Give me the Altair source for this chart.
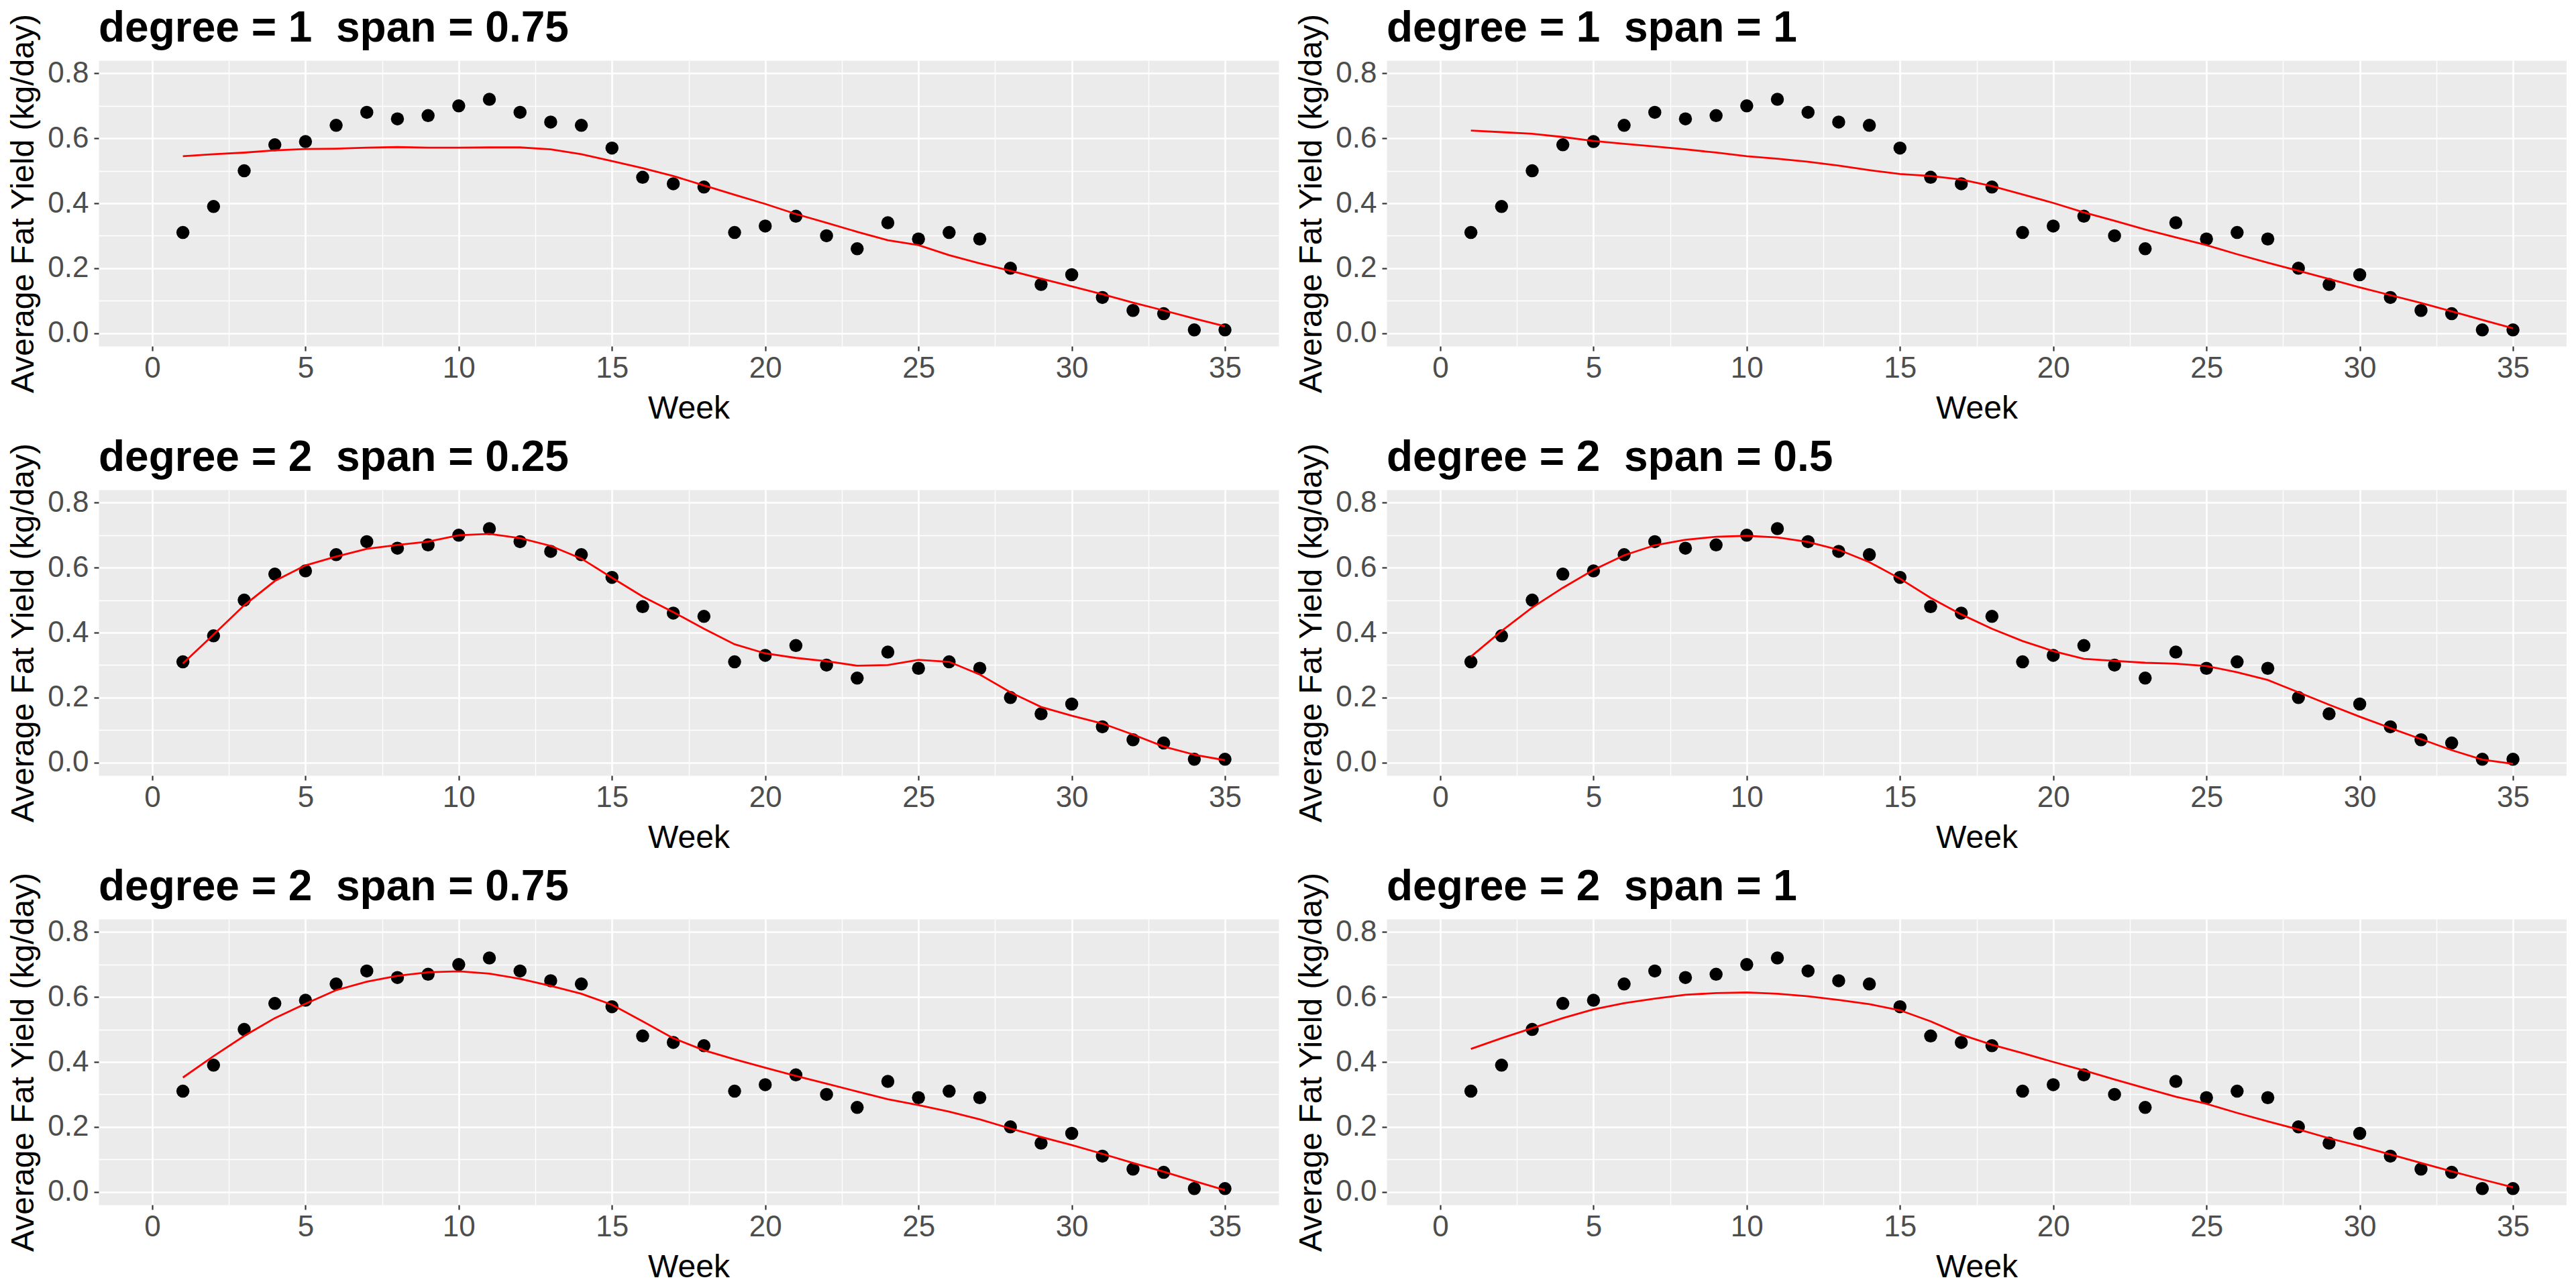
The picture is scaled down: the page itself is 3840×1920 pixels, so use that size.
import altair as alt
import pandas as pd

FONT = "Liberation Sans"
PANEL_W = 1759
PANEL_H = 426

weeks = list(range(1, 36))
fat_yield = [0.31, 0.39, 0.50, 0.58, 0.59, 0.64, 0.68, 0.66, 0.67, 0.70,
             0.72, 0.68, 0.65, 0.64, 0.57, 0.48, 0.46, 0.45, 0.31, 0.33,
             0.36, 0.30, 0.26, 0.34, 0.29, 0.31, 0.29, 0.20, 0.15, 0.18,
             0.11, 0.07, 0.06, 0.01, 0.01]

# loess curves, one value per week
fit_d1_s075 = [0.545, 0.551, 0.556, 0.563, 0.567, 0.568, 0.571, 0.573, 0.571, 0.571,
               0.572, 0.572, 0.566, 0.551, 0.530, 0.508, 0.484, 0.455, 0.426, 0.398,
               0.367, 0.340, 0.312, 0.286, 0.271, 0.240, 0.215, 0.192, 0.168, 0.144,
               0.120, 0.094, 0.070, 0.045, 0.021]
fit_d1_s1 = [0.624, 0.619, 0.614, 0.604, 0.592, 0.583, 0.575, 0.566, 0.556, 0.545,
             0.537, 0.528, 0.516, 0.502, 0.490, 0.484, 0.473, 0.453, 0.427, 0.401,
             0.372, 0.346, 0.319, 0.295, 0.271, 0.243, 0.217, 0.192, 0.167, 0.141,
             0.117, 0.093, 0.067, 0.041, 0.015]
fit_d2_s025 = [0.305, 0.394, 0.484, 0.559, 0.607, 0.634, 0.658, 0.670, 0.680, 0.700,
               0.704, 0.691, 0.667, 0.628, 0.569, 0.511, 0.463, 0.412, 0.364, 0.336,
               0.322, 0.312, 0.298, 0.300, 0.316, 0.310, 0.271, 0.216, 0.171, 0.144,
               0.120, 0.086, 0.049, 0.024, 0.007]
fit_d2_s05 = [0.326, 0.405, 0.477, 0.538, 0.593, 0.638, 0.669, 0.686, 0.695, 0.698,
              0.693, 0.679, 0.655, 0.617, 0.566, 0.507, 0.456, 0.412, 0.374, 0.343,
              0.319, 0.313, 0.307, 0.304, 0.297, 0.278, 0.254, 0.216, 0.178, 0.141,
              0.106, 0.072, 0.038, 0.009, -0.004]
fit_d2_s075 = [0.352, 0.418, 0.480, 0.535, 0.579, 0.621, 0.647, 0.665, 0.676, 0.679,
               0.672, 0.656, 0.634, 0.610, 0.576, 0.525, 0.473, 0.436, 0.408, 0.382,
               0.357, 0.333, 0.309, 0.285, 0.267, 0.247, 0.223, 0.195, 0.169, 0.144,
               0.117, 0.089, 0.062, 0.033, 0.005]
fit_d2_s1 = [0.440, 0.473, 0.504, 0.535, 0.562, 0.581, 0.595, 0.607, 0.612, 0.614,
             0.610, 0.602, 0.591, 0.578, 0.559, 0.525, 0.484, 0.453, 0.427, 0.400,
             0.374, 0.346, 0.319, 0.293, 0.271, 0.243, 0.217, 0.192, 0.165, 0.141,
             0.115, 0.089, 0.063, 0.038, 0.014]

# two spaces before "span"; the first is a no-break space so SVG keeps both
panel_titles = ["degree = 1\u00a0 span = 0.75", "degree = 1\u00a0 span = 1",
                "degree = 2\u00a0 span = 0.25", "degree = 2\u00a0 span = 0.5",
                "degree = 2\u00a0 span = 0.75", "degree = 2\u00a0 span = 1"]
panel_fits = [fit_d1_s075, fit_d1_s1, fit_d2_s025, fit_d2_s05, fit_d2_s075, fit_d2_s1]

x_ticks = [0, 2.5, 5, 7.5, 10, 12.5, 15, 17.5, 20, 22.5, 25, 27.5, 30, 32.5, 35]
y_ticks = [0.0, 0.1, 0.2, 0.3, 0.4, 0.5, 0.6, 0.7, 0.8]

X_MAJOR = "datum.value % 5 === 0"
Y_MAJOR = "abs(round(datum.value * 10)) % 2 === 0"


def _eje(major, valores, **extra):
    """Eje estilo ggplot: rejilla mayor gruesa, menor fina."""
    return alt.Axis(
        values=valores,
        grid=True,
        gridColor="white",
        gridWidth={"condition": {"test": major, "value": 2.6}, "value": 1.3},
        tickOpacity={"condition": {"test": major, "value": 1}, "value": 0},
        labelExpr=f"{major} ? datum.label : ''",
        tickSize=7,
        tickWidth=2.2,
        tickColor="#333333",
        domain=False,
        labelOverlap=False,
        labelFont=FONT,
        labelFontSize=44,
        labelColor="#4D4D4D",
        titleFont=FONT,
        titleFontSize=48,
        titleFontWeight="normal",
        titleColor="black",
        titleBaseline="alphabetic",
        titleAlign="center",
        **extra,
    )


def panel(titulo, ajuste):
    puntos = pd.DataFrame({"week": weeks, "fat": fat_yield})
    curva = pd.DataFrame({"week": weeks, "fat": ajuste})
    x = alt.X(
        "week:Q",
        scale=alt.Scale(domain=[-1.75, 36.75], nice=False, zero=False),
        axis=_eje(X_MAJOR, x_ticks, title="Week", format="d", labelPadding=4,
                  titleX=PANEL_W / 2, titleY=107),
    )
    y = alt.Y(
        "fat:Q",
        scale=alt.Scale(domain=[-0.04, 0.84], nice=False, zero=False),
        axis=_eje(Y_MAJOR, y_ticks, title="Average Fat Yield (kg/day)", format=".1f",
                  labelPadding=8, titleX=-98, titleY=PANEL_H / 2, titleAngle=270),
    )
    capa_puntos = alt.Chart(puntos).mark_circle(size=380, color="black", opacity=1).encode(x=x, y=y)
    capa_curva = alt.Chart(curva).mark_line(color="#FF0000", strokeWidth=2.8).encode(x=x, y=y)
    return alt.layer(
        capa_puntos,
        capa_curva,
        title=alt.Title(
            titulo, font=FONT, fontSize=64, fontWeight="bold", color="black",
            anchor="start", frame="group", baseline="alphabetic", offset=-106,
        ),
    ).properties(width=PANEL_W, height=PANEL_H)


chart = alt.concat(
    *[panel(t, f) for t, f in zip(panel_titles, panel_fits)],
    columns=2,
    spacing={"row": 214, "column": 161},
    bounds="flush",
    padding={"left": 2, "top": 3, "right": 0, "bottom": 0},
).configure_view(fill="#EBEBEB", strokeOpacity=0)

chart.save("out.html", embed_options={"renderer": "svg", "actions": False})
